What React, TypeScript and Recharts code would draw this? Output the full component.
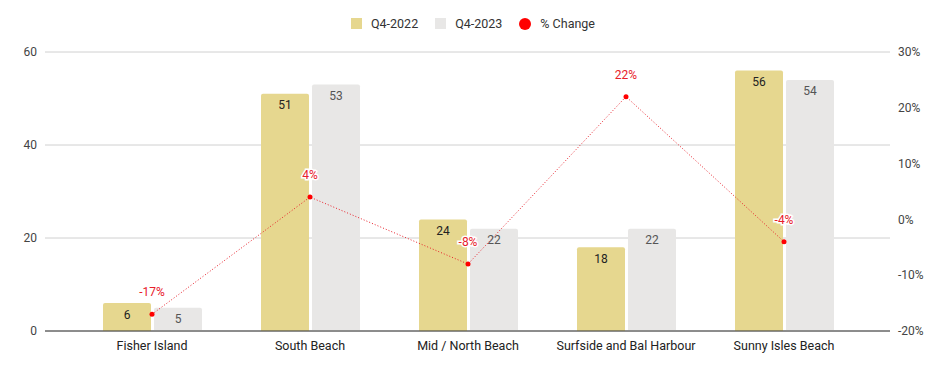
import { ComposedChart, Bar, Line, XAxis, YAxis, CartesianGrid, Legend, LabelList } from 'recharts'

const areas = ['Fisher Island', 'South Beach', 'Mid / North Beach', 'Surfside and Bal Harbour', 'Sunny Isles Beach']
const q42022 = [6, 51, 24, 18, 56]
const q42023 = [5, 53, 22, 22, 54]
const pctChange = [-17, 4, -8, 22, -4]
const leftTicks = [0, 20, 40, 60]
const rightTicks = [-20, -10, 0, 10, 20, 30]
const legendOrder = ['Q4-2022', 'Q4-2023', '% Change']

const data = areas.map((name, i) => ({
    name,
    'Q4-2022': q42022[i],
    'Q4-2023': q42023[i],
    '% Change': pctChange[i],
}))

const GOLD = '#e6d78f'
const GRAY = '#e8e7e6'
const RED = '#e8202a'
const FONT = 'Roboto, "Liberation Sans", Arial, sans-serif'

const renderLegend = (props: any) => {
    const payload = [...(props.payload || [])].sort(
        (a: any, b: any) => legendOrder.indexOf(a.value) - legendOrder.indexOf(b.value)
    )
    return (
        <div style={{ display: 'flex', justifyContent: 'center', alignItems: 'center', fontFamily: FONT, fontSize: 12.5, color: '#333', paddingLeft: 2 }}>
            {payload.map((entry: any, i: number) => (
                <div key={entry.value} style={{ display: 'flex', alignItems: 'center', marginRight: i === payload.length - 1 ? 0 : 17 }}>
                    <span
                        style={{
                            display: 'inline-block',
                            width: entry.type === 'circle' ? 12 : 11,
                            height: entry.type === 'circle' ? 12 : 11,
                            borderRadius: entry.type === 'circle' ? '50%' : 0,
                            background: entry.type === 'circle' ? '#ff0000' : entry.color,
                            marginRight: 9,
                        }}
                    />
                    <span>{entry.value}</span>
                </div>
            ))}
        </div>
    )
}

const changeLabel = (props: any) => {
    const { x, y, value } = props
    return (
        <text
            x={x}
            y={y - 18}
            textAnchor="middle"
            fill={RED}
            fontSize={12}
            fontFamily={FONT}
            stroke="#fff"
            strokeWidth={3}
            paintOrder="stroke"
        >
            {`${value}%`}
        </text>
    )
}

export default function App() {
    return (
        <div style={{ position: 'absolute', left: 0, top: 0, background: '#fff' }}>
            <ComposedChart
                width={944}
                height={371}
                data={data}
                margin={{ top: 16, right: 0, left: 0, bottom: 0 }}
                barSize={48}
                barGap={3}
            >
                <CartesianGrid vertical={false} stroke="#d0d0d0" />
                <XAxis
                    dataKey="name"
                    height={40}
                    padding={{ left: 28, right: 27 }}
                    axisLine={{ stroke: '#333' }}
                    tickLine={false}
                    tick={{ fill: '#222', fontSize: 12.5, fontFamily: FONT }}
                    interval={0}
                    dy={2}
                />
                <YAxis
                    width={45}
                    domain={[0, 60]}
                    ticks={leftTicks}
                    axisLine={false}
                    tickLine={false}
                    tick={{ fill: '#444', fontSize: 12, fontFamily: FONT }}
                />
                <YAxis
                    yAxisId="right"
                    orientation="right"
                    width={54}
                    domain={[-20, 30]}
                    ticks={rightTicks}
                    axisLine={false}
                    tickLine={false}
                    tickFormatter={(v) => `${v}%`}
                    tick={{ fill: '#444', fontSize: 12, fontFamily: FONT }}
                />
                <Legend verticalAlign="top" height={36} content={renderLegend} />
                <Bar dataKey="Q4-2022" fill={GOLD} radius={[2, 2, 0, 0]} legendType="square" isAnimationActive={false}>
                    <LabelList dataKey="Q4-2022" position="insideTop" offset={7} fill="#222" fontSize={12} fontFamily={FONT} />
                </Bar>
                <Bar dataKey="Q4-2023" fill={GRAY} radius={[2, 2, 0, 0]} legendType="square" isAnimationActive={false}>
                    <LabelList dataKey="Q4-2023" position="insideTop" offset={7} fill="#555" fontSize={12} fontFamily={FONT} />
                </Bar>
                <Line
                    yAxisId="right"
                    dataKey="% Change"
                    stroke={RED}
                    strokeWidth={1}
                    strokeDasharray="1 2"
                    dot={{ r: 2.5, fill: '#ff0000', stroke: 'none' }}
                    activeDot={false}
                    legendType="circle"
                    isAnimationActive={false}
                >
                    <LabelList dataKey="% Change" content={changeLabel} />
                </Line>
            </ComposedChart>
        </div>
    )
}
